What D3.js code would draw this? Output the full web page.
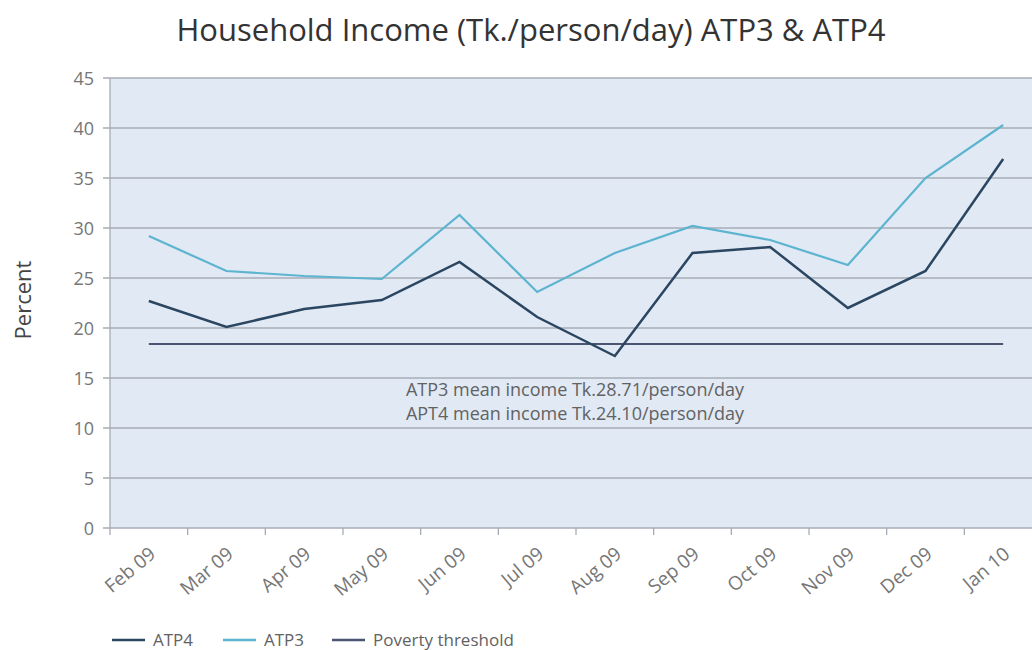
<!DOCTYPE html>
<html>
<head>
<meta charset="utf-8">
<script src="https://cdn.jsdelivr.net/npm/d3@7"></script>
<style>
  body { margin: 0; background: white; }
  text { font-family: "Open Sans", sans-serif; }
</style>
</head>
<body>
<div class="chart"></div>
<script>
var months = ["Feb 09", "Mar 09", "Apr 09", "May 09", "Jun 09", "Jul 09",
    "Aug 09", "Sep 09", "Oct 09", "Nov 09", "Dec 09", "Jan 10"]
var atp3 = [29.2, 25.7, 25.2, 24.9, 31.3, 23.6, 27.5, 30.2, 28.8, 26.3, 35.0, 40.3]
var atp4 = [22.7, 20.1, 21.9, 22.8, 26.6, 21.1, 17.2, 27.5, 28.1, 22.0, 25.7, 36.9]
var povertyThreshold = 18.4
var yTicks = [0, 5, 10, 15, 20, 25, 30, 35, 40, 45]
var notes = ["ATP3 mean income Tk.28.71/person/day", "APT4 mean income Tk.24.10/person/day"]
var legendItems = [
    {name: "ATP4", color: "#2b4661"},
    {name: "ATP3", color: "#5cb4cf"},
    {name: "Poverty threshold", color: "#4a5573"}
]

var svg = d3.select(".chart")
    .append("svg")
    .attr("width", 1032)
    .attr("height", 650)

var x = d3.scaleBand()
    .domain(months)
    .range([110, 1042])

var y = d3.scaleLinear()
    .domain([0, 45])
    .range([528, 78])

// plot background
svg.append("rect")
    .attr("x", 110)
    .attr("y", y(45))
    .attr("width", 932)
    .attr("height", y(0) - y(45))
    .attr("fill", "#e1e9f5")

// gridlines + y labels
svg.selectAll(".grid")
    .data(yTicks)
    .enter().append("line")
    .attr("x1", 103)
    .attr("x2", 1042)
    .attr("y1", function(d) { return y(d) })
    .attr("y2", function(d) { return y(d) })
    .attr("stroke", "#a7acb4")
    .attr("stroke-width", 1.3)

svg.append("line")
    .attr("x1", 110).attr("x2", 110)
    .attr("y1", y(45)).attr("y2", y(0))
    .attr("stroke", "#a7acb4")
    .attr("stroke-width", 1.3)

svg.selectAll(".ylab")
    .data(yTicks)
    .enter().append("text")
    .attr("x", 94)
    .attr("y", function(d) { return y(d) + 6.5 })
    .attr("text-anchor", "end")
    .attr("fill", "#767676")
    .style("font-size", "18px")
    .text(function(d) { return d })

// x axis ticks and labels
svg.selectAll(".xtick")
    .data(months)
    .enter().append("line")
    .attr("x1", function(d) { return x(d) })
    .attr("x2", function(d) { return x(d) })
    .attr("y1", y(0))
    .attr("y2", y(0) + 7)
    .attr("stroke", "#a7acb4")
    .attr("stroke-width", 1.3)

svg.selectAll(".xlab")
    .data(months)
    .enter().append("text")
    .attr("transform", function(d) {
        return "translate(" + (x(d) + x.bandwidth() / 2 + 8) + "," + (y(0) + 28) + ") rotate(-40)"
    })
    .attr("text-anchor", "end")
    .attr("fill", "#767676")
    .style("font-size", "19px")
    .text(function(d) { return d })

var cx = function(i) { return x(months[i]) + x.bandwidth() / 2 }

// poverty line
svg.append("line")
    .attr("x1", cx(0))
    .attr("x2", cx(months.length - 1))
    .attr("y1", y(povertyThreshold))
    .attr("y2", y(povertyThreshold))
    .attr("stroke", legendItems[2].color)
    .attr("stroke-width", 2.2)

var line = d3.line()
    .x(function(d, i) { return cx(i) })
    .y(function(d) { return y(d) })

svg.append("path")
    .attr("d", line(atp3))
    .attr("fill", "none")
    .attr("stroke", legendItems[1].color)
    .attr("stroke-width", 2.2)

svg.append("path")
    .attr("d", line(atp4))
    .attr("fill", "none")
    .attr("stroke", legendItems[0].color)
    .attr("stroke-width", 2.5)

// annotation
svg.selectAll(".note")
    .data(notes)
    .enter().append("text")
    .attr("x", 575)
    .attr("y", function(d, i) { return 396 + i * 24 })
    .attr("text-anchor", "middle")
    .attr("fill", "#626262")
    .style("font-size", "18px")
    .text(function(d) { return d })

// title + y label
svg.append("text")
    .attr("x", 531)
    .attr("y", 41)
    .attr("text-anchor", "middle")
    .attr("fill", "#333")
    .style("font-size", "31px")
    .text("Household Income (Tk./person/day) ATP3 & ATP4")

svg.append("text")
    .attr("transform", "translate(31,300) rotate(-90)")
    .attr("text-anchor", "middle")
    .attr("fill", "#444")
    .style("font-size", "22px")
    .text("Percent")

// legend
var legendX = [112, 223, 332]
var legendItem = svg.selectAll(".legendItem")
    .data(legendItems)
    .enter().append("g")
    .attr("transform", function(d, i) { return "translate(" + legendX[i] + ",640)" })

legendItem.append("line")
    .attr("x1", 0).attr("x2", 33)
    .attr("stroke", function(d) { return d.color })
    .attr("stroke-width", 2.5)

legendItem.append("text")
    .attr("x", 41)
    .attr("y", 6)
    .attr("fill", "#626262")
    .style("font-size", "17px")
    .text(function(d) { return d.name })
</script>
</body>
</html>
